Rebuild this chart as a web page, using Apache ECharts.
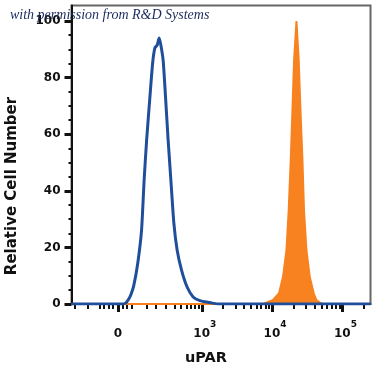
<!DOCTYPE html>
<html><head><meta charset="utf-8">
<script src="https://cdn.jsdelivr.net/npm/echarts@6/dist/echarts.min.js"></script>
<style>html,body{margin:0;padding:0;background:#fff}#c{width:375px;height:375px}</style>
</head><body><div id="c"></div>
<script>
// Isotype control (blue outline): [fluorescence intensity, relative cell number]
const isotypeControl = [[-280,0],[20,0],[34,0.4],[44,1.4],[56,3.2],[70,6.5],[90,14.5],[110,26],[125,44],[140,58],[161,73],[180,85],[197,90.5],[215,91.5],[232,94],[247,91.5],[269,86],[293,73],[321,58],[353,44],[392,28.6],[439,19],[509,12],[614,6],[750,2.5],[936,1.2],[1300,0.5],[1700,0],[250000,0]];
// uPAR stained (orange filled)
const uparStained = [[-280,0],[7500,0],[8300,0.5],[10300,1.4],[12550,3.8],[14300,9.6],[16000,19],[17200,33],[18400,51],[19450,68.5],[20500,86],[22200,100],[23900,86],[25300,68.5],[27000,51],[28400,33],[30750,19],[34250,9.6],[39000,3.8],[42600,1.4],[47500,0.5],[52000,0],[250000,0]];
const yMajorTicks = [0,20,40,60,80,100];
const yMinorTicks = [5,10,15,25,30,35,45,50,55,65,70,75,85,90,95];
const xMajorTicks = [0,1000,10000,100000];
const xMajorLabels = ['{b|0}','{p| }{b|10}{s|3}','{p| }{b|10}{s|4}','{p| }{b|10}{s|5}'];
const xMinorTicks = [-250,-150,-80,-60,-40,-20,20,40,60,140,200,300,400,500,600,700,800,900,2000,3000,4000,5000,6000,7000,8000,9000,20000,30000,40000,50000,60000,70000,80000,90000,200000];
const xRange = [-280, 250000];
const yRange = [0, 105.5];

const W = 129;
const T = x => Math.asinh(x / W);
const FONT = 'DejaVu Sans';
const chart = echarts.init(document.getElementById('c'), null, {renderer:'canvas'});
const xMin = T(xRange[0]), xMax = T(xRange[1]);
const majT = xMajorTicks.map(T);
chart.setOption({
  animation:false,
  backgroundColor:'#fff',
  grid:{left:71.5, right:4.5, top:5.5, bottom:71, show:true, borderColor:'#666', borderWidth:2, backgroundColor:'transparent'},
  xAxis:[{
    type:'value', min:xMin, max:xMax, position:'bottom',
    axisLine:{show:true, onZero:false, lineStyle:{color:'#111', width:2}},
    axisTick:{show:true, customValues:majT, length:8, lineStyle:{color:'#111', width:3}},
    axisLabel:{show:true, customValues:majT, margin:16, lineHeight:20, color:'#111', fontFamily:FONT, fontWeight:'bold', fontSize:12,
      formatter:function(v){let bi=0,bd=1e9;majT.forEach((t,i)=>{const d=Math.abs(t-v);if(d<bd){bd=d;bi=i;}});return xMajorLabels[bi];},
      rich:{b:{fontSize:12,fontWeight:'bold',fontFamily:FONT,color:'#111',verticalAlign:'bottom'},
            s:{fontSize:9,fontWeight:'bold',fontFamily:FONT,color:'#111',verticalAlign:'top'},
            p:{width:6,fontSize:9}}},
    splitLine:{show:false}
  },{
    type:'value', min:xMin, max:xMax, position:'bottom',
    axisLine:{show:false, onZero:false},
    axisTick:{show:true, customValues:xMinorTicks.map(T), length:5, lineStyle:{color:'#111', width:2}},
    axisLabel:{show:false}, splitLine:{show:false}
  }],
  yAxis:[{
    type:'value', min:yRange[0], max:yRange[1], position:'left',
    axisLine:{show:true, onZero:false, lineStyle:{color:'#111', width:2}},
    axisTick:{show:true, customValues:yMajorTicks, length:7, lineStyle:{color:'#111', width:3}},
    axisLabel:{show:true, customValues:yMajorTicks, margin:11, color:'#111', fontFamily:FONT, fontWeight:'bold', fontSize:12},
    splitLine:{show:false}
  },{
    type:'value', min:yRange[0], max:yRange[1], position:'left',
    axisLine:{show:false, onZero:false},
    axisTick:{show:true, customValues:yMinorTicks, length:3, lineStyle:{color:'#111', width:2}},
    axisLabel:{show:false}, splitLine:{show:false}
  }],
  series:[{
    name:'uPAR', type:'line', xAxisIndex:0, yAxisIndex:0, showSymbol:false, smooth:false, z:2,
    data:uparStained.map(p=>[T(p[0]),p[1]]),
    lineStyle:{color:'#f7821f', width:2}, areaStyle:{color:'#f7821f', opacity:1}
  },{
    name:'Isotype', type:'line', xAxisIndex:0, yAxisIndex:0, showSymbol:false, smooth:0.2, z:3,
    data:isotypeControl.map(p=>[T(p[0]),p[1]]),
    lineStyle:{color:'#1f4e9b', width:3}
  }],
  graphic:[
    {type:'text', left:10, top:8, z:100, style:{text:'with permission from R&D Systems', font:'italic 14px "Liberation Serif"', fill:'#1c2b5e'}},
    {type:'text', x:12, y:186, rotation:Math.PI/2, z:100, style:{text:'Relative Cell Number', font:'bold 15px "DejaVu Sans"', fill:'#111', align:'center', verticalAlign:'middle'}},
    {type:'text', x:206, y:358, z:100, style:{text:'uPAR', font:'bold 14.5px "DejaVu Sans"', fill:'#111', align:'center', verticalAlign:'middle'}}
  ]
});
</script></body></html>
